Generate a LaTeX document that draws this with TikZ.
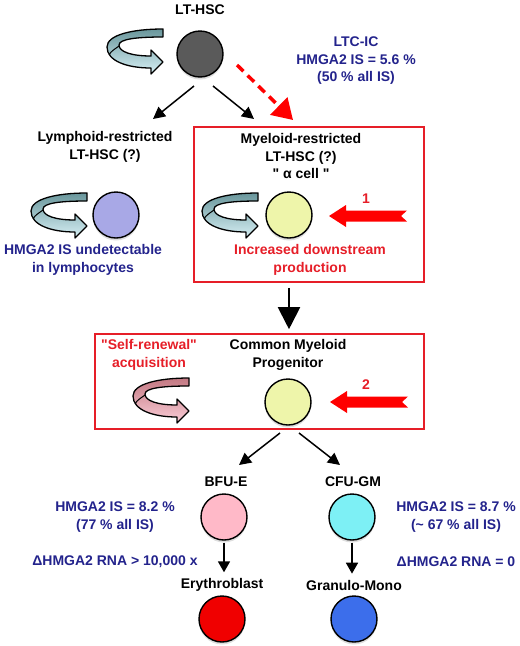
\documentclass[tikz,border=0pt]{standalone}
\usepackage{fontspec}
\setmainfont{Liberation Sans}[Ligatures=TeXOff]
\usetikzlibrary{arrows.meta,calc}
\definecolor{navy}{RGB}{35,35,140}
\definecolor{boxred}{RGB}{230,30,40}
\definecolor{purered}{RGB}{255,0,0}
\definecolor{cdark}{RGB}{90,90,90}
\definecolor{clav}{RGB}{168,168,230}
\definecolor{cyel}{RGB}{238,245,170}
\definecolor{cpink}{RGB}{255,185,200}
\definecolor{ccyan}{RGB}{125,240,245}
\definecolor{cred}{RGB}{240,0,0}
\definecolor{cblue}{RGB}{60,110,235}
\definecolor{ribtop}{RGB}{105,150,155}
\definecolor{ribbot}{RGB}{215,240,245}
\definecolor{pribtop}{RGB}{195,120,130}
\definecolor{pribbot}{RGB}{250,205,215}
\tikzset{
  pics/ribbon/.style n args={2}{code={
    \draw[line width=1.3pt, line join=round, top color=#1, bottom color=#2]
      (56,0) -- (56,8) .. controls (30,8) and (12,10) .. (12,16)
      .. controls (12,23) and (25,27) .. (44,27) -- (44,21) -- (56,33)
      -- (44,45) -- (44,39) .. controls (20,39) and (0,32) .. (0,18)
      .. controls (0,6) and (25,0) .. (56,0) -- cycle;
    \draw[line width=1pt] (12,17) .. controls (8,20) and (4,22) .. (2,26);
  }},
  pics/blockarrow/.style={code={
    \fill[purered] (0,0) -- (17,-11) -- (17,-5.5) -- (78,-5.5) -- (72,0)
      -- (78,5.5) -- (17,5.5) -- (17,11) -- cycle;
  }}
}
\begin{document}
\begin{tikzpicture}[x=1pt,y=-1pt,
  lbl/.style={font=\fontsize{14}{17.5}\selectfont\bfseries, align=center, inner sep=0pt},
  blk/.style={lbl, text=black},
  blu/.style={lbl, text=navy},
  rdt/.style={lbl, text=boxred},
  cell/.style={circle, draw=black, line width=1.4pt, minimum size=46pt, inner sep=0pt,
    preaction={fill=black!13, transform canvas={yshift=-2.5pt}}},
  rbox/.style={draw=boxred, line width=1.6pt, inner sep=0pt},
  thinarrow/.style={line width=1.5pt, -{Triangle[length=12pt,width=12pt]}},
  downarrow/.style={line width=1.8pt, -{Triangle[length=11pt,width=12pt]}},
  bigarrow/.style={line width=2pt, -{Triangle[length=22pt,width=22pt]}},
  dasharrow/.style={draw=purered, line width=3.5pt, dash pattern=on 9pt off 6pt,
    -{Triangle[length=20pt,width=24pt, fill=purered]}}
]
\useasboundingbox (0,0) rectangle (520,646);

% top level
\node[blk] (tLT) at (200,10) {LT-HSC};
\pic at (107,29) {ribbon={ribtop}{ribbot}};
\node[cell, fill=cdark] (c0) at (200,54) {};
\node[blu] (tLTC) at (356,61) {LTC-IC\\HMGA2 IS = 5.6 \%\\(50 \% all IS)};

% red box 1
\node[rbox, minimum width=230pt, minimum height=155pt] (box1) at (309,204.5) {};

\coordinate (a1s) at ($(c0)+(-6,32)$);
\coordinate (a1e) at ($(c0)+(-47,65)$);
\coordinate (a2s) at ($(c0)+(13,32)$);
\coordinate (a2e) at ($(c0)+(54,65)$);
\draw[thinarrow] (a1s) -- (a1e);
\draw[thinarrow] (a2s) -- (a2e);
\coordinate (ds) at ($(c0)+(37,11)$);
\coordinate (de) at ($(c0)+(93,66)$);
\draw[dasharrow] (ds) -- (de);

% lymphoid
\node[blk] (tLym) at (105,147) {Lymphoid-restricted\\LT-HSC (?)};
\pic at (31,193) {ribbon={ribtop}{ribbot}};
\node[cell, fill=clav] (c1) at (116,215) {};
\node[blu] (tUnd) at (83,260) {HMGA2 IS undetectable\\in lymphocytes};

% myeloid
\node[blk] (tMye) at (301,156) {Myeloid-restricted\\LT-HSC (?)\\" α cell "};
\pic at (202,193) {ribbon={ribtop}{ribbot}};
\node[cell, fill=cyel] (c2) at (289,215) {};
\pic at (329,216) {blockarrow};
\node[rdt] (t1) at (366,199) {1};
\node[rdt] (tInc) at (310,260) {Increased downstream\\production};

% red box 2
\node[rbox, minimum width=329pt, minimum height=95pt] (box2) at (259.5,381.5) {};
\draw[bigarrow, shorten <=5pt, shorten >=4pt] (c2 |- box1.south) -- (c2 |- box2.north);

\node[rdt] (tSelf) at (149,355) {"Self-renewal"\\acquisition};
\node[blk] (tCMP) at (288,355) {Common Myeloid\\Progenitor};
\pic at (133,378) {ribbon={pribtop}{pribbot}};
\node[cell, fill=cyel] (c3) at (288,402) {};
\pic at (330,402) {blockarrow};
\node[rdt] (t2) at (366,385) {2};

\coordinate (b1s) at ($(c3)+(-8,31)$);
\coordinate (b1e) at ($(c3)+(-49,63)$);
\coordinate (b2s) at ($(c3)+(11,31)$);
\coordinate (b2e) at ($(c3)+(52,63)$);
\draw[thinarrow] (b1s) -- (b1e);
\draw[thinarrow] (b2s) -- (b2e);

% lower level
\node[blk] (tBFU) at (226,482) {BFU-E};
\node[blk] (tCFU) at (353,482) {CFU-GM};
\node[cell, fill=cpink] (c4) at (224,517) {};
\node[cell, fill=ccyan] (c5) at (352,517) {};
\node[blu] (tIS1) at (115,517) {HMGA2 IS = 8.2 \%\\(77 \% all IS)};
\node[blu] (tIS2) at (456,517) {HMGA2 IS = 8.7 \%\\(\char`\~\ 67 \% all IS)};
\node[blu] (tR1) at (115,562) {ΔHMGA2 RNA > 10,000 x};
\node[blu] (tR2) at (456,562) {ΔHMGA2 RNA = 0};
\node[blk] (tEry) at (222,585) {Erythroblast};
\node[blk] (tGM) at (354,585) {Granulo-Mono};
\draw[downarrow, shorten <=2pt, shorten >=6pt] (c4.south) -- (c4.south |- tEry.north);
\draw[downarrow, shorten <=2pt, shorten >=6pt] (c5.south) -- (c5.south |- tGM.north);
\node[cell, fill=cred] (c6) at (222,619) {};
\node[cell, fill=cblue] (c7) at (354,619) {};
\end{tikzpicture}
\end{document}
